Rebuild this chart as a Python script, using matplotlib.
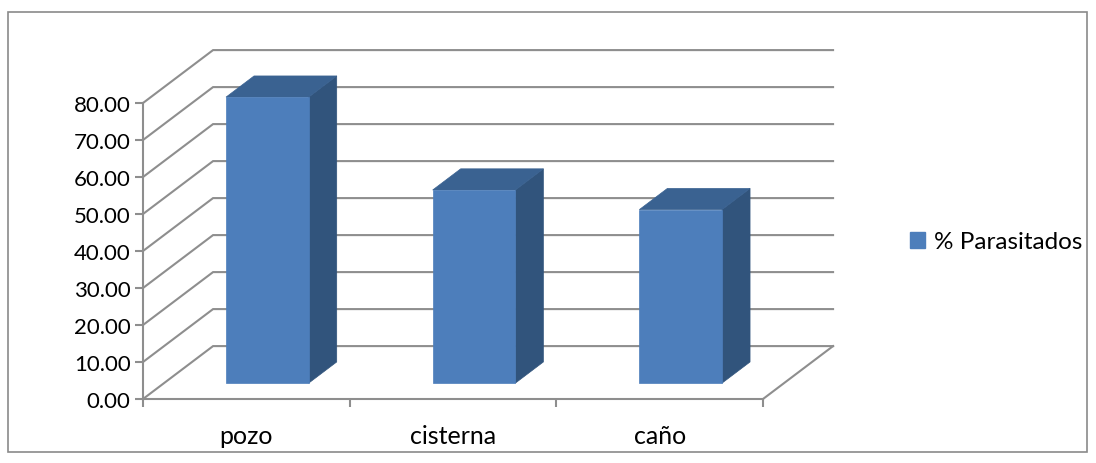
import matplotlib
matplotlib.use("Agg")
import matplotlib.pyplot as plt
from matplotlib.patches import Patch, Rectangle

plt.rcParams["font.family"] = ["Lato", "DejaVu Sans"]

categories = ["pozo", "cisterna", "caño"]
parasitados = [77.3, 52.2, 46.9]
y_ticks = [0, 10, 20, 30, 40, 50, 60, 70, 80]

GRID = "#8e8e8e"
FRONT = "#4d7ebb"
TOP = "#3a6291"
SIDE = "#31547c"

# oblique depth of the box, in data units
DEPTH_X = 0.339
DEPTH_Y = 14.3
BAR_W = 0.40
BAR_D0 = 0.30
BAR_D1 = 0.70

fig = plt.figure(figsize=(10.96, 4.64), dpi=100)
fig.add_artist(Rectangle((8 / 1096, 11 / 464), 1079 / 1096, 440 / 464,
                         transform=fig.transFigure, fill=False,
                         edgecolor="#8a8a8a", linewidth=1.2))
ax = fig.add_axes([143 / 1096, 64 / 464, 620 / 1096, 296 / 464])
ax.set_xlim(0, len(categories))
ax.set_ylim(0, 80)
ax.patch.set_alpha(0)


def proj(x, d, y):
    return x + d * DEPTH_X, y + d * DEPTH_Y


# wall and floor lines
for v in y_ticks:
    x0, y0 = proj(0, 0, v)
    x1, y1 = proj(0, 1, v)
    x2, y2 = proj(len(categories), 1, v)
    ax.plot([x0, x1, x2], [y0, y1, y2], color=GRID, lw=1.5, clip_on=False,
            solid_joinstyle="miter", zorder=1)
x0, y0 = proj(len(categories), 0, 0)
x1, y1 = proj(len(categories), 1, 0)
ax.plot([x0, x1], [y0, y1], color=GRID, lw=1.5, clip_on=False, zorder=1)

# bars, front face plus top and right side
for i, val in enumerate(parasitados):
    left = i + 0.5 - BAR_W / 2
    right = i + 0.5 + BAR_W / 2
    front = [proj(left, BAR_D0, 0), proj(right, BAR_D0, 0),
             proj(right, BAR_D0, val), proj(left, BAR_D0, val)]
    top = [proj(left, BAR_D0, val), proj(right, BAR_D0, val),
           proj(right, BAR_D1, val), proj(left, BAR_D1, val)]
    side = [proj(right, BAR_D0, 0), proj(right, BAR_D1, 0),
            proj(right, BAR_D1, val), proj(right, BAR_D0, val)]
    ax.fill(*zip(*side), color=SIDE, lw=0.5, clip_on=False, zorder=3)
    ax.fill(*zip(*top), color=TOP, lw=0.5, clip_on=False, zorder=3)
    ax.fill(*zip(*front), color=FRONT, lw=0.5, clip_on=False, zorder=4)

for s in ["top", "right"]:
    ax.spines[s].set_visible(False)
for s in ["left", "bottom"]:
    ax.spines[s].set_color(GRID)
    ax.spines[s].set_linewidth(1.5)

ax.set_yticks(y_ticks)
ax.set_yticklabels(["%.2f" % v for v in y_ticks])
ax.set_xticks(range(len(categories) + 1))
ax.set_xticklabels([])
ax.set_xticks([i + 0.5 for i in range(len(categories))], categories, minor=True)
ax.tick_params(axis="both", which="major", length=6, width=1.5, color=GRID,
               labelsize=16, labelcolor="black", pad=3)
ax.tick_params(axis="x", which="minor", length=0, labelsize=18, pad=18)

fig.legend(handles=[Patch(color=FRONT, label="% Parasitados")],
           loc="center left", bbox_to_anchor=(900 / 1096, 1 - 243 / 464),
           frameon=False, fontsize=17.5, handlelength=0.62, handleheight=0.62,
           handletextpad=0.37, borderpad=0, borderaxespad=0.4)

fig.savefig("out.png", dpi=100)
